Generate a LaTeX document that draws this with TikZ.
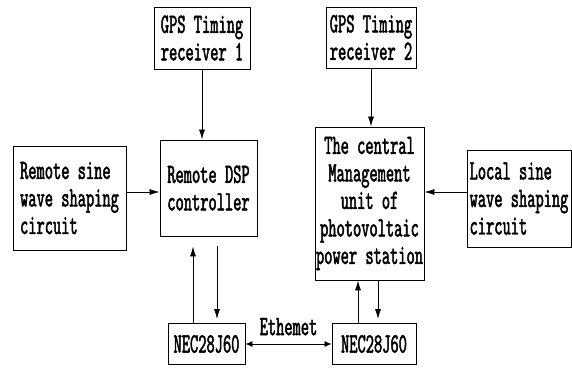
\documentclass[tikz,border=0pt]{standalone}
\usepackage{fontspec}
\newfontfamily\diafont[FakeStretch=0.56,FakeBold=1.6]{lmmono10-regular.otf}
\usetikzlibrary{arrows.meta}
\tikzstyle{line} = [draw, line width=0.8pt, -{Latex[length=10pt, width=6pt]}]
\tikzstyle{block} = [rectangle, draw, line width=0.9pt, inner sep=0pt, align=center, font=\diafont\fontsize{28}{27.5}\selectfont]
\tikzstyle{sine} = [block, align=left]
\tikzstyle{nec} = [block, minimum height=41pt]

\begin{document}
\begin{tikzpicture}[x=1pt, y=1pt]
		\useasboundingbox (0,0) rectangle (572,368);
		\node [block, minimum width=97pt, minimum height=96pt] (dsp) at (208.5,180) {Remote DSP\\controller};
		\node [block, above of=dsp, node distance=150pt, xshift=-6.5pt, minimum width=96pt, minimum height=62pt] (gps1) {GPS Timing\\receiver 1};
		\node [sine, left of=dsp, node distance=139pt, yshift=-10pt, minimum width=113pt, minimum height=104pt] (rsine) {Remote sine\\wave shaping\\circuit};
		\node [nec, below of=dsp, node distance=156pt, xshift=-2pt, minimum width=77pt] (nec1) {NEC28J60};
		
		\node [block, right of=dsp, node distance=161pt, yshift=-15.5pt, minimum width=109pt, minimum height=153pt] (central) {The central\\Management\\unit of\\photovoltaic\\power station};
		\node [block, above of=central, node distance=166pt, xshift=1.5pt, minimum width=90pt, minimum height=61pt] (gps2) {GPS Timing\\receiver 2};
		\node [sine, right of=central, node distance=149.5pt, yshift=5pt, minimum width=104pt, minimum height=97pt] (lsine) {Local sine\\wave shaping\\circuit};
		\node [nec, below of=central, node distance=140.5pt, xshift=4.5pt, minimum width=84pt] (nec2) {NEC28J60};
		
		\path [line] (gps1.south) to (gps1.south |- dsp.north);
		\path [line] ([yshift=6pt]rsine.east) to ([yshift=6pt]rsine.east -| dsp.west);
		\path [line] ([xshift=-13.5pt]nec1.north) to ([xshift=-15.5pt, yshift=-10pt]dsp.south);
		\path [line] ([xshift=8.5pt, yshift=-10pt]dsp.south) to ([xshift=10.5pt, yshift=4pt]nec1.north);
		
		\path [line] (gps2.south) to (gps2.south |- central.north);
		\path [line] ([yshift=6.5pt]lsine.west) to ([yshift=6.5pt]lsine.west -| central.east);
		\path [line] ([xshift=-16pt]nec2.north) to ([xshift=-11.5pt]central.south);
		\path [line] ([xshift=8.5pt]central.south) to ([xshift=4pt, yshift=4pt]nec2.north);
		
		\path [line, {Latex[length=7pt, width=6pt]}-{Latex[length=7pt, width=6pt]}] (nec1.east) to node [above=5pt, font=\diafont\fontsize{28}{27.5}\selectfont] (eth) {Ethemet} (nec2.west);
	\end{tikzpicture}
\end{document}
